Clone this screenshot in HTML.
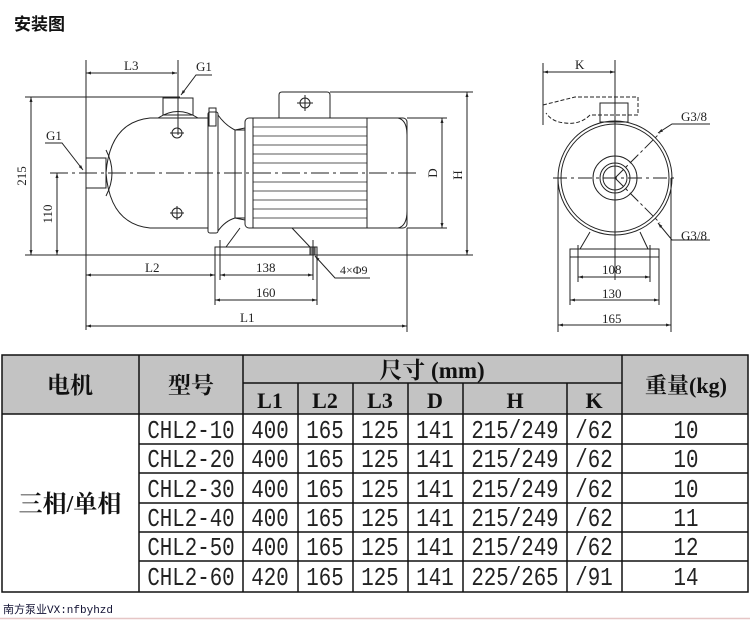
<!DOCTYPE html>
<html><head><meta charset="utf-8"><style>
html,body{margin:0;padding:0;background:#fff;}
svg{display:block;}
.d{fill:none;stroke:#222;stroke-width:1;}
.t{font-family:"Liberation Serif",serif;font-size:13px;fill:#222;}
.c{font-family:"Liberation Mono",monospace;font-size:26px;fill:#222;text-anchor:middle;}
.h{font-family:"Liberation Serif","Noto Serif CJK SC",serif;font-weight:bold;fill:#111;text-anchor:middle;}
</style></head><body>
<svg width="750" height="620" viewBox="0 0 750 620" xmlns="http://www.w3.org/2000/svg">
<defs><marker id="a" viewBox="0 0 10 10" refX="10" refY="5" markerWidth="7" markerHeight="5" orient="auto-start-reverse"><path d="M0,2L10,5L0,8z" fill="#222"/></marker></defs>
<text x="14" y="30" style="font-family:'Noto Sans CJK SC',sans-serif;font-weight:bold;font-size:17px" fill="#111">安装图</text>

<!-- LEFT VIEW -->
<g class="d">
<line x1="25" y1="255" x2="473" y2="255"/>
<line x1="25" y1="97" x2="180" y2="97"/>
<line x1="330" y1="92" x2="473" y2="92"/>
<line x1="407" y1="118" x2="447" y2="118"/>
<line x1="407" y1="228" x2="447" y2="228"/>
<line x1="31" y1="97" x2="31" y2="255" marker-start="url(#a)" marker-end="url(#a)"/>
<line x1="57" y1="173" x2="57" y2="255" marker-start="url(#a)" marker-end="url(#a)"/>
<line x1="50" y1="173" x2="418" y2="173" stroke-dasharray="18,4,3,4"/>
<line x1="86" y1="60" x2="86" y2="330"/>
<line x1="178" y1="60" x2="178" y2="135"/>
<line x1="86" y1="73" x2="177" y2="73" marker-start="url(#a)" marker-end="url(#a)"/>
<rect x="86" y="158" width="20" height="30"/>
<path d="M208,118 L150,118 Q110,122 106,173 Q110,224 150,228 L208,228"/>
<path d="M106,150 Q118,173 106,196"/>
<rect x="163" y="98" width="30" height="17"/>
<path d="M158,118 Q178,105 198,118"/>
<circle cx="177" cy="133" r="5"/><line x1="170" y1="133" x2="184" y2="133"/>
<circle cx="177" cy="213" r="5"/><line x1="170" y1="213" x2="184" y2="213"/><line x1="177" y1="206" x2="177" y2="220"/>
<rect x="208" y="112" width="10" height="121" rx="2"/>
<rect x="209" y="108" width="7" height="18"/>
<path d="M218,115 Q225,125 235,130 L245,128 M218,231 Q225,221 235,218 L245,220"/>
<rect x="235" y="130" width="10" height="88"/>
<rect x="245" y="118" width="162" height="110" rx="4"/>
<line x1="253" y1="118" x2="253" y2="228"/>
<line x1="367" y1="118" x2="367" y2="228"/>
<path d="M367,118 L398,118 Q407,120 407,135 L407,211 Q407,226 398,228"/>
<g stroke-width="0.8">
<line x1="253" y1="127" x2="367" y2="127"/><line x1="253" y1="136" x2="367" y2="136"/><line x1="253" y1="145" x2="367" y2="145"/><line x1="253" y1="154" x2="367" y2="154"/><line x1="253" y1="163" x2="367" y2="163"/><line x1="253" y1="182" x2="367" y2="182"/><line x1="253" y1="191" x2="367" y2="191"/><line x1="253" y1="200" x2="367" y2="200"/><line x1="253" y1="209" x2="367" y2="209"/><line x1="253" y1="218" x2="367" y2="218"/>
</g>
<path d="M279,118 L279,95 Q279,92 282,92 L327,92 Q330,92 330,95 L330,118"/>
<circle cx="305" cy="103" r="5"/><line x1="297" y1="103" x2="313" y2="103"/><line x1="305" y1="95" x2="305" y2="111"/>
<path d="M240,228 L226,247 M292,228 L310,247"/>
<rect x="215" y="247" width="102" height="8"/>
<rect x="310" y="247" width="5" height="8" fill="#888"/>
<line x1="442" y1="118" x2="442" y2="228" marker-start="url(#a)" marker-end="url(#a)"/>
<line x1="467" y1="92" x2="467" y2="255" marker-start="url(#a)" marker-end="url(#a)"/>
<line x1="215" y1="255" x2="215" y2="305"/>
<line x1="317" y1="255" x2="317" y2="305"/>
<line x1="220" y1="240" x2="220" y2="280"/>
<line x1="313" y1="240" x2="313" y2="280"/>
<line x1="407" y1="228" x2="407" y2="332"/>
<line x1="86" y1="275" x2="215" y2="275" marker-start="url(#a)" marker-end="url(#a)"/>
<line x1="220" y1="275" x2="313" y2="275" marker-start="url(#a)" marker-end="url(#a)"/>
<line x1="215" y1="300" x2="317" y2="300" marker-start="url(#a)" marker-end="url(#a)"/>
<line x1="86" y1="326" x2="407" y2="326" marker-start="url(#a)" marker-end="url(#a)"/>
<path d="M212,75 L196,75 L181,95" marker-end="url(#a)"/>
<path d="M45,143 L62,143 L83,170" marker-end="url(#a)"/>
<path d="M370,278 L335,278 L315,256" marker-end="url(#a)"/>
</g>
<g class="t">
<text x="124" y="70">L3</text><text x="196" y="71">G1</text><text x="46" y="140">G1</text>
<text x="26" y="176" transform="rotate(-90 26 176)" text-anchor="middle">215</text>
<text x="52" y="214" transform="rotate(-90 52 214)" text-anchor="middle">110</text>
<text x="437" y="173" transform="rotate(-90 437 173)" text-anchor="middle">D</text>
<text x="462" y="175" transform="rotate(-90 462 175)" text-anchor="middle">H</text>
<text x="145" y="272">L2</text><text x="256" y="272">138</text><text x="256" y="297">160</text><text x="240" y="322">L1</text>
<text x="340" y="274" font-size="12">4×Φ9</text>
</g>

<!-- RIGHT VIEW -->
<g class="d">
<line x1="543" y1="63" x2="543" y2="125"/>
<line x1="615" y1="60" x2="615" y2="280"/>
<line x1="543" y1="72" x2="615" y2="72" marker-start="url(#a)" marker-end="url(#a)"/>
<path d="M543,105 L575,97 L638,97 L638,115 L590,115 Q580,125 565,123 Q552,122 546,113" stroke-dasharray="4,2"/>
<line x1="543" y1="105" x2="543" y2="113"/>
<rect x="600" y="103" width="28" height="19"/>
<circle cx="615" cy="178" r="57"/>
<circle cx="615" cy="178" r="54"/>
<circle cx="615" cy="178" r="22"/>
<circle cx="615" cy="178" r="15"/>
<circle cx="615" cy="178" r="12"/>
<line x1="553" y1="178" x2="677" y2="178" stroke-dasharray="14,4,3,4"/>
<line x1="615" y1="178" x2="660" y2="133" stroke-dasharray="12,3,3,3"/>
<line x1="615" y1="178" x2="660" y2="223" stroke-dasharray="12,3,3,3"/>
<path d="M658,133 L672,124 L710,124" marker-start="url(#a)"/>
<path d="M658,223 L672,240 L710,240" marker-start="url(#a)"/>
<path d="M590,232 L580,249 M640,232 L648,249"/>
<rect x="570" y="249" width="89" height="8"/>
<line x1="558" y1="178" x2="558" y2="332"/><line x1="671" y1="178" x2="671" y2="332"/>
<line x1="570" y1="257" x2="570" y2="305"/><line x1="659" y1="257" x2="659" y2="305"/>
<line x1="578" y1="245" x2="578" y2="282"/><line x1="650" y1="245" x2="650" y2="282"/>
<line x1="578" y1="277" x2="650" y2="277" marker-start="url(#a)" marker-end="url(#a)"/>
<line x1="570" y1="300" x2="659" y2="300" marker-start="url(#a)" marker-end="url(#a)"/>
<line x1="558" y1="325" x2="671" y2="325" marker-start="url(#a)" marker-end="url(#a)"/>
</g>
<g class="t">
<text x="575" y="69">K</text><text x="681" y="121">G3/8</text><text x="681" y="240">G3/8</text>
<text x="602" y="274">108</text><text x="602" y="298">130</text><text x="602" y="323">165</text>
</g>

<!-- TABLE -->
<rect x="2" y="355" width="746" height="59" fill="#c3c3c3"/>
<g stroke="#111" stroke-width="1.5" fill="none">
<rect x="2" y="355" width="746" height="237"/>
<line x1="2" y1="414" x2="748" y2="414"/>
<line x1="243" y1="383" x2="622" y2="383"/>
<line x1="139" y1="355" x2="139" y2="592"/>
<line x1="243" y1="355" x2="243" y2="592"/>
<line x1="622" y1="355" x2="622" y2="592"/>
<line x1="298" y1="383" x2="298" y2="592"/>
<line x1="353" y1="383" x2="353" y2="592"/>
<line x1="408" y1="383" x2="408" y2="592"/>
<line x1="463" y1="383" x2="463" y2="592"/>
<line x1="567" y1="383" x2="567" y2="592"/>
<line x1="139" y1="444" x2="748" y2="444"/>
<line x1="139" y1="473" x2="748" y2="473"/>
<line x1="139" y1="503" x2="748" y2="503"/>
<line x1="139" y1="532" x2="748" y2="532"/>
<line x1="139" y1="561" x2="748" y2="561"/>
</g>
<g class="h" font-size="23">
<text x="70" y="393">电机</text><text x="191" y="393">型号</text>
<text x="432" y="378">尺寸 (mm)</text>
<text x="686" y="393" font-size="22">重量(kg)</text>
<text x="70" y="512" font-size="24">三相/单相</text>
</g>
<g class="h" font-size="22">
<text x="270" y="408">L1</text><text x="325" y="408">L2</text><text x="380" y="408">L3</text><text x="435" y="408">D</text><text x="515" y="408">H</text><text x="594" y="408">K</text>
</g>
<g class="c" transform="scale(0.8,1)">
<text x="238.75" y="438">CHL2-10</text><text x="337.5" y="438">400</text><text x="406.25" y="438">165</text><text x="475" y="438">125</text><text x="543.75" y="438">141</text><text x="643.75" y="438">215/249</text><text x="742.5" y="438">/62</text><text x="857.5" y="438">10</text>
<text x="238.75" y="467">CHL2-20</text><text x="337.5" y="467">400</text><text x="406.25" y="467">165</text><text x="475" y="467">125</text><text x="543.75" y="467">141</text><text x="643.75" y="467">215/249</text><text x="742.5" y="467">/62</text><text x="857.5" y="467">10</text>
<text x="238.75" y="497">CHL2-30</text><text x="337.5" y="497">400</text><text x="406.25" y="497">165</text><text x="475" y="497">125</text><text x="543.75" y="497">141</text><text x="643.75" y="497">215/249</text><text x="742.5" y="497">/62</text><text x="857.5" y="497">10</text>
<text x="238.75" y="526">CHL2-40</text><text x="337.5" y="526">400</text><text x="406.25" y="526">165</text><text x="475" y="526">125</text><text x="543.75" y="526">141</text><text x="643.75" y="526">215/249</text><text x="742.5" y="526">/62</text><text x="857.5" y="526">11</text>
<text x="238.75" y="555">CHL2-50</text><text x="337.5" y="555">400</text><text x="406.25" y="555">165</text><text x="475" y="555">125</text><text x="543.75" y="555">141</text><text x="643.75" y="555">215/249</text><text x="742.5" y="555">/62</text><text x="857.5" y="555">12</text>
<text x="238.75" y="585">CHL2-60</text><text x="337.5" y="585">420</text><text x="406.25" y="585">165</text><text x="475" y="585">125</text><text x="543.75" y="585">141</text><text x="643.75" y="585">225/265</text><text x="742.5" y="585">/91</text><text x="857.5" y="585">14</text>
</g>
<text x="3" y="613" style="font-family:'Liberation Mono','Noto Sans CJK SC',monospace;font-size:11px" fill="#113">南方泵业VX:nfbyhzd</text>
<line x1="0" y1="618.5" x2="750" y2="618.5" stroke="#e6c6c6" stroke-width="1.5"/>
</svg>
</body></html>
